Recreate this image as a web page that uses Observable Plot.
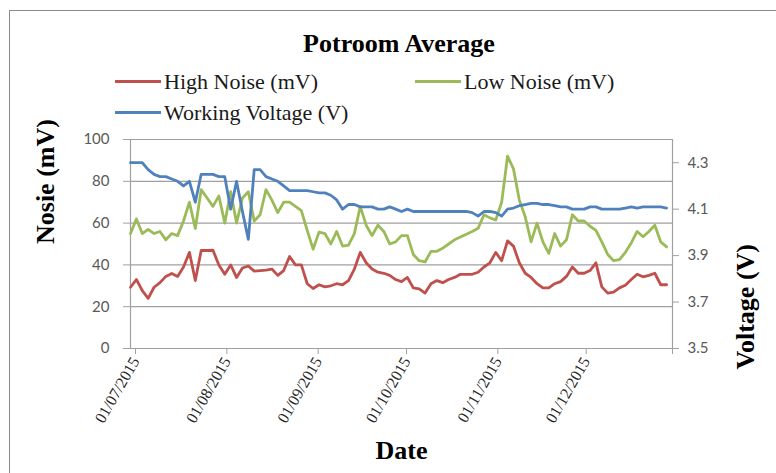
<!DOCTYPE html>
<html><head><meta charset="utf-8">
<script src="https://cdn.jsdelivr.net/npm/d3@7"></script>
<script src="https://cdn.jsdelivr.net/npm/@observablehq/plot@0.6"></script>
<style>
html,body{margin:0;padding:0;background:#fff;width:776px;height:473px;overflow:hidden;}
#frame{position:absolute;left:9px;top:10px;width:900px;height:900px;border:1px solid #8c8c8c;box-sizing:border-box;pointer-events:none;}
#header{position:relative;height:125px;width:776px;}
.title{position:absolute;left:0;width:798px;top:29px;text-align:center;font-family:"Liberation Serif","Times New Roman",serif;font-weight:bold;font-size:26px;color:#000;}
.item{position:absolute;font-family:"Liberation Serif","Times New Roman",serif;font-size:22px;font-weight:normal;color:#1a1a1a;line-height:22px;white-space:nowrap;}
.sw{display:inline-block;width:46px;height:3px;vertical-align:middle;margin-right:3px;position:relative;top:-2px;}
#chart{position:relative;}
</style></head>
<body>
<div id="frame"></div>
<div id="header">
  <div class="title" id="title"></div>
  <div id="legend"></div>
</div>
<div id="chart"></div>
<script>
const chartTitle = "Potroom Average";
const seriesNames = ["High Noise (mV)", "Low Noise (mV)", "Working Voltage (V)"];
const seriesColors = ["#c0504d", "#9bbb59", "#4f81bd"];
const startDate = "2015-07-01";
const stepDays = 2;
// High noise (mV), one value every 2 days
const highNoise = [29.3,33,27.7,24,29.3,31.5,34.5,35.9,34.5,39,
46,32.5,46.9,46.9,47,40,35.5,40,34,38.5,
39.5,37,37.3,37.5,38,35,37.3,44,40,40,
31,28.7,30.5,29.5,30,31,30.5,32.5,38,46,
41,38,36.5,36,35,33,32,34,29,28.5,
26.5,31,32.5,31.5,33,34,35.5,35.5,35.5,36.5,
39,41,46,42,51.5,49,41,36,34,31,
29,29,31,32,34.5,39,36,36,37.3,41,
29.5,26.5,27,29,30.3,33,35.5,34.3,35,36,
30.5,30.5];
// Low noise (mV)
const lowNoise = [55,62,55,57,55,56,52,55,54,61,
70,57.4,76,72,68,73,60,75,60,72,
75,61,64,76,71,65,70,70,68,66,
56.5,47.5,55.7,55,50,56,49,49.5,55,68,
59,54,59,56,50,51,54,54,45,42,
41.4,46.5,46.5,48,50,52,53.3,54.7,56,57.5,
64,62.5,61.5,70,92,86,71,63,51,60,
51,45.5,55,49,52,64,61,61,58.5,56.5,
51,45,42,42.5,46,50.5,56,53.5,56,59,
51,48.6];
// Working voltage (V)
const voltage = [4.30,4.30,4.30,4.27,4.25,4.24,4.24,4.23,4.22,4.20,
4.22,4.13,4.25,4.25,4.25,4.24,4.24,4.10,4.22,4.09,
3.97,4.27,4.27,4.24,4.23,4.22,4.20,4.18,4.18,4.18,
4.18,4.175,4.17,4.17,4.16,4.14,4.10,4.12,4.12,4.11,
4.11,4.11,4.10,4.10,4.11,4.10,4.09,4.10,4.09,4.09,
4.09,4.09,4.09,4.09,4.09,4.09,4.09,4.09,4.085,4.07,
4.09,4.09,4.085,4.07,4.10,4.105,4.115,4.12,4.125,4.125,
4.12,4.12,4.115,4.11,4.11,4.10,4.10,4.10,4.11,4.11,
4.10,4.10,4.10,4.10,4.105,4.11,4.105,4.11,4.11,4.11,
4.11,4.105];
const noiseTicks = [0,20,40,60,80,100];
const voltTicks = [3.5,3.7,3.9,4.1,4.3];
const voltDomain = [3.5,4.4];
const monthTicks = ["2015-07-01","2015-08-01","2015-09-01","2015-10-01","2015-11-01","2015-12-01"];
const xDomain = ["2015-07-01","2016-01-01"];
const xTitle = "Date", yTitle = "Nosie (mV)", y2Title = "Voltage (V)";

document.getElementById("title").textContent = chartTitle;
const legendPos = [[115,71],[415,71],[115,102]];
const leg = document.getElementById("legend");
seriesNames.forEach((n,i)=>{
  const d = document.createElement("div");
  d.className = "item";
  d.style.left = legendPos[i][0]+"px"; d.style.top = legendPos[i][1]+"px";
  const s = document.createElement("span"); s.className="sw"; s.style.background = seriesColors[i];
  d.appendChild(s); d.appendChild(document.createTextNode(n));
  leg.appendChild(d);
});

const parse = d3.utcParse("%Y-%m-%d");
const start = parse(startDate);
const rows = highNoise.map((h,i)=>({date: d3.utcDay.offset(start, i*stepDays), high: h, low: lowNoise[i], volt: voltage[i]}));
const toLeft = v => (v - voltDomain[0]) / (voltDomain[1]-voltDomain[0]) * 100;
const fromLeft = n => voltDomain[0] + n/100*(voltDomain[1]-voltDomain[0]);
const xd = xDomain.map(parse);
const axisGray = "#a0a0a0";
const numFont = "Lato, 'Open Sans', sans-serif";
const serif = "'Liberation Serif', 'Times New Roman', serif";

const plot = Plot.plot({
  width: 776, height: 348,
  marginTop: 14, marginBottom: 125, marginLeft: 130, marginRight: 104,
  style: {background: "transparent", overflow: "visible", fontFamily: serif},
  x: {type: "utc", domain: xd},
  y: {domain: [0,100]},
  marks: [
    Plot.gridY(noiseTicks.filter(t=>t>0), {stroke: axisGray, strokeOpacity: 1, strokeWidth: 1.2}),
    Plot.ruleY([0], {stroke: axisGray, strokeWidth: 1.2}),
    Plot.ruleX([xd[0], xd[1]], {stroke: axisGray, strokeWidth: 1.2}),
    Plot.line(rows, {x: "date", y: "high", stroke: seriesColors[0], strokeWidth: 2.8, strokeLinejoin: "round"}),
    Plot.line(rows, {x: "date", y: "low", stroke: seriesColors[1], strokeWidth: 2.8, strokeLinejoin: "round"}),
    Plot.line(rows, {x: "date", y: d => toLeft(d.volt), stroke: seriesColors[2], strokeWidth: 2.8, strokeLinejoin: "round"}),
    Plot.axisY(noiseTicks, {anchor: "left", tickSize: 7, tickPadding: 14, stroke: axisGray, fill: "#595959", fontSize: 15, fontFamily: numFont, label: null}),
    Plot.axisY(voltTicks.map(toLeft), {anchor: "right", tickSize: 6, tickPadding: 9, stroke: axisGray, fill: "#595959", fontSize: 15, fontFamily: numFont, tickFormat: v => fromLeft(v).toFixed(1), label: null}),
    Plot.axisX(monthTicks.map(parse), {anchor: "bottom", tickSize: 6, tickPadding: 4, tickRotate: -60, textAnchor: "end", dx: 5, stroke: axisGray, fill: "#262626", fontSize: 16, fontFamily: serif, tickFormat: d3.utcFormat("%d/%m/%Y"), label: null}),
    Plot.axisX([xd[1]], {anchor: "bottom", tickSize: 6, stroke: axisGray, tickFormat: () => "", label: null}),
    Plot.text([yTitle], {text: d=>d, frameAnchor: "left", dx: -85, rotate: -90, fontSize: 26, fontWeight: "bold", fontFamily: serif, fill: "#000"}),
    Plot.text([y2Title], {text: d=>d, frameAnchor: "right", dx: 73, rotate: -90, fontSize: 26, fontWeight: "bold", fontFamily: serif, fill: "#000"}),
    Plot.text([xTitle], {text: d=>d, frameAnchor: "bottom", dy: 110, fontSize: 26, fontWeight: "bold", fontFamily: serif, fill: "#000"})
  ]
});
document.getElementById("chart").appendChild(plot);
</script>
</body></html>
